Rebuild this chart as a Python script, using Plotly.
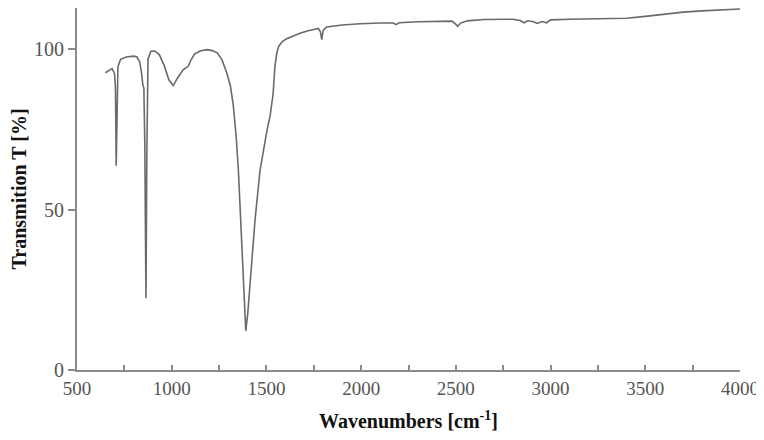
import plotly.graph_objects as go

wavenumbers = [650, 670, 685, 698, 703, 707, 711, 716, 730, 760, 800, 815, 830, 840, 848, 853, 858, 864, 869, 875,
               890, 910, 935, 960, 985, 1008, 1030, 1060, 1088, 1100, 1120, 1150, 1185, 1215, 1240, 1265, 1290,
               1310, 1325, 1340, 1352, 1365, 1378, 1391, 1402, 1413, 1425, 1440, 1466, 1485, 1502, 1520, 1535,
               1545, 1555, 1565, 1585, 1607, 1640, 1677, 1720, 1774, 1785, 1792, 1800, 1818, 1900, 1994, 2100,
               2170, 2185, 2200, 2300, 2400, 2480, 2500, 2510, 2525, 2560, 2650, 2750, 2800, 2840, 2860, 2880,
               2910, 2930, 2955, 2980, 3000, 3100, 3200, 3300, 3400, 3500, 3600, 3700, 3800, 3900, 4000]
transmission = [92.7, 93.3, 94.0, 92.5, 88.0, 63.7, 88.0, 94.5, 96.9, 97.6, 97.9, 97.7, 96.3, 93.0, 88.7, 88.0,
                70.0, 22.4, 70.0, 97.0, 99.4, 99.5, 98.3, 95.0, 90.5, 88.7, 91.0, 93.6, 94.8, 96.5, 98.5, 99.5,
                99.9, 99.6, 98.9, 96.8, 92.8, 88.5, 82.6, 73.0, 62.2, 45.0, 26.0, 12.2, 18.0, 26.5, 36.0, 46.9,
                62.2, 69.0, 74.4, 79.5, 86.0, 94.8, 99.0, 101.0, 102.5, 103.3, 104.2, 105.0, 105.8, 106.5, 105.5,
                103.0, 106.0, 107.0, 107.6, 108.0, 108.2, 108.2, 107.7, 108.3, 108.6, 108.8, 108.8, 107.8, 107.2,
                108.2, 108.9, 109.3, 109.5, 109.4, 109.0, 108.3, 108.9, 108.6, 108.1, 108.7, 108.3, 109.2, 109.4,
                109.5, 109.6, 109.7, 110.3, 111.0, 111.6, 112.0, 112.3, 112.6]

x_tickvals = [500, 1000, 1500, 2000, 2500, 3000, 3500, 4000]
x_ticktext = ["500", "1000", "1500", "2000", "2500", "3000", "3500", "4000"]
y_tickvals = [0, 50, 100]
y_ticktext = ["0", "50", "100"]

fig = go.Figure()
fig.add_trace(go.Scatter(x=wavenumbers, y=transmission, mode="lines",
                         line=dict(color="#6a6a6a", width=1.6), showlegend=False))

axis_color = "#8a8a8a"
font_family = "Liberation Serif, Times New Roman, serif"
# the page body adds an 8 px offset round the figure; size and margins compensate for it
fig.update_layout(
    width=756, height=424,
    margin=dict(l=69, r=24, t=0, b=62),
    plot_bgcolor="rgba(0,0,0,0)", paper_bgcolor="white",
    font=dict(family=font_family, size=20, color="#555555"),
)
fig.update_xaxes(
    range=[500, 4000], tickvals=x_tickvals, ticktext=x_ticktext,
    showgrid=False, zeroline=False, showline=True, linecolor=axis_color, linewidth=2,
    ticks="inside", ticklen=5, tickcolor=axis_color, tickwidth=1.5,
    minor=dict(dtick=250, tick0=500, ticks="inside", ticklen=5, tickcolor=axis_color, tickwidth=1.5),
    tickfont=dict(family=font_family, size=19, color="#555555"),
    automargin=False,
    title=dict(text="<b>Wavenumbers [cm<sup>-1</sup>]</b>", standoff=22,
               font=dict(family=font_family, size=20, color="#111111")),
)
fig.update_yaxes(
    range=[0, 112.9], tickvals=y_tickvals, ticktext=y_ticktext,
    showgrid=False, zeroline=False, showline=True, linecolor=axis_color, linewidth=2,
    ticks="outside", ticklen=7, tickcolor=axis_color, tickwidth=1.5,
    tickfont=dict(family=font_family, size=20, color="#555555"),
    automargin=False,
    title=dict(text="<b>Transmition T [%]</b>", standoff=14,
               font=dict(family=font_family, size=20, color="#111111")),
)

fig.write_html("out.html", config={"displayModeBar": False})
